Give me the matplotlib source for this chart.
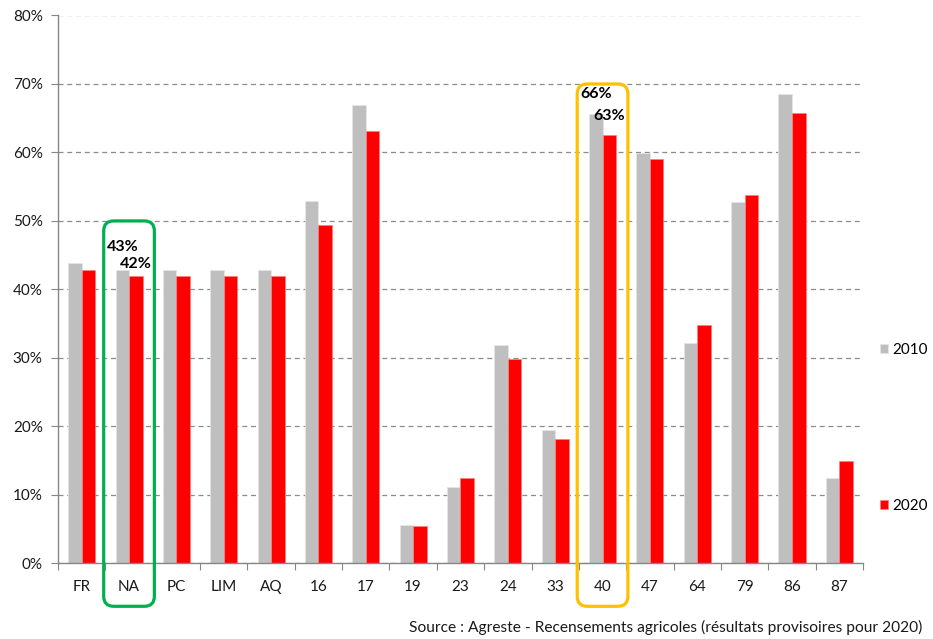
import matplotlib.pyplot as plt
from matplotlib.patches import FancyBboxPatch
from matplotlib.transforms import IdentityTransform
import numpy as np

plt.rcParams['font.family'] = ['Lato', 'DejaVu Sans']

categories = ['FR', 'NA', 'PC', 'LIM', 'AQ', '16', '17', '19', '23', '24',
              '33', '40', '47', '64', '79', '86', '87']
v2010 = [0.439, 0.428, 0.428, 0.428, 0.428, 0.529, 0.669, 0.056, 0.112, 0.319,
         0.194, 0.656, 0.599, 0.321, 0.527, 0.685, 0.125]
v2020 = [0.428, 0.420, 0.420, 0.420, 0.420, 0.494, 0.632, 0.054, 0.124, 0.299,
         0.182, 0.626, 0.590, 0.348, 0.538, 0.657, 0.150]
years = ['2010', '2020']
colors = ['#BFBFBF', '#FF0000']
source = 'Source : Agreste - Recensements agricoles (résultats provisoires pour 2020)'

# highlighted categories, with the top of their frame (share) and frame colour
highlights = [('NA', 0.50, '#00B050'), ('40', 0.70, '#FFC000')]

fig = plt.figure(figsize=(9.33, 6.39), dpi=100)
ax = fig.add_axes([58/933, 1 - 563.3/639, 805/933, 547.8/639])

x = np.arange(len(categories))
w = 1 / 1.75 / 2
bars_a = ax.bar(x - w/2, v2010, w, color=colors[0], edgecolor='#E6E6E6', linewidth=0.5,
                label=years[0], zorder=3)
bars_b = ax.bar(x + w/2, v2020, w, color=colors[1], edgecolor='#FF8080', linewidth=0.5,
                label=years[1], zorder=3)

ax.set_xlim(-0.5, len(categories) - 0.5)
ax.set_ylim(0, 0.8)
ax.set_yticks(np.arange(0, 0.81, 0.1))
ax.set_yticklabels([f'{t:.0%}' for t in np.arange(0, 0.81, 0.1)])
ax.set_xticks(np.arange(-0.5, len(categories)), labels=[])
ax.set_xticks(x, labels=categories, minor=True)
ax.tick_params(axis='x', which='major', length=5, color='#868686', direction='out')
ax.tick_params(axis='x', which='minor', length=0, pad=12, labelsize=11, labelcolor='#1a1a1a')
ax.tick_params(axis='y', length=5, color='#868686', pad=6, labelsize=11, labelcolor='#1a1a1a')

ax.grid(axis='y', color='#8c8c8c', linestyle=(0, (4, 3)), linewidth=0.9, zorder=0)
for s in ['top', 'right']:
    ax.spines[s].set_visible(False)
for s in ['left', 'bottom']:
    ax.spines[s].set_color('#868686')
    ax.spines[s].set_linewidth(1.0)
    ax.spines[s].set_zorder(4)

# value labels on the highlighted categories
offsets = {('NA', 0): 16, ('NA', 1): 5, ('40', 0): 13, ('40', 1): 12}
for name, top, col in highlights:
    i = categories.index(name)
    for k, vals in enumerate([v2010, v2020]):
        xc = i - w/2 + k*w
        ax.annotate(f'{vals[i]:.0%}', (xc, vals[i]), xytext=(0, offsets[(name, k)]),
                    textcoords='offset pixels', ha='center', va='bottom',
                    fontsize=11.5, fontweight='bold', color='black', zorder=5)

# rounded frames around the highlighted categories (drawn in pixel space)
for name, top, col in highlights:
    i = categories.index(name)
    x0, y1 = ax.transData.transform((i - 0.535, top))
    x1, y0 = ax.transData.transform((i + 0.535, 0))
    y0 -= 43
    pad = 10
    box = FancyBboxPatch((x0 + pad, y0 + pad), x1 - x0 - 2*pad, y1 - y0 - 2*pad,
                         boxstyle=f'round,pad={pad}', transform=IdentityTransform(),
                         fill=False, edgecolor=col, linewidth=2.3, zorder=6)
    fig.add_artist(box)

fig.legend(handles=[bars_a, bars_b], labels=years, loc='upper left',
           bbox_to_anchor=(875/933, 1 - 338/639), frameon=False, fontsize=11,
           handlelength=0.55, handleheight=0.55, handletextpad=0.25,
           labelspacing=9.3, borderaxespad=0, borderpad=0.3)

fig.text(409/933, 1 - 632/639, source, fontsize=11.2, color='#1a1a1a', va='baseline')

fig.savefig('out.png', dpi=100)
